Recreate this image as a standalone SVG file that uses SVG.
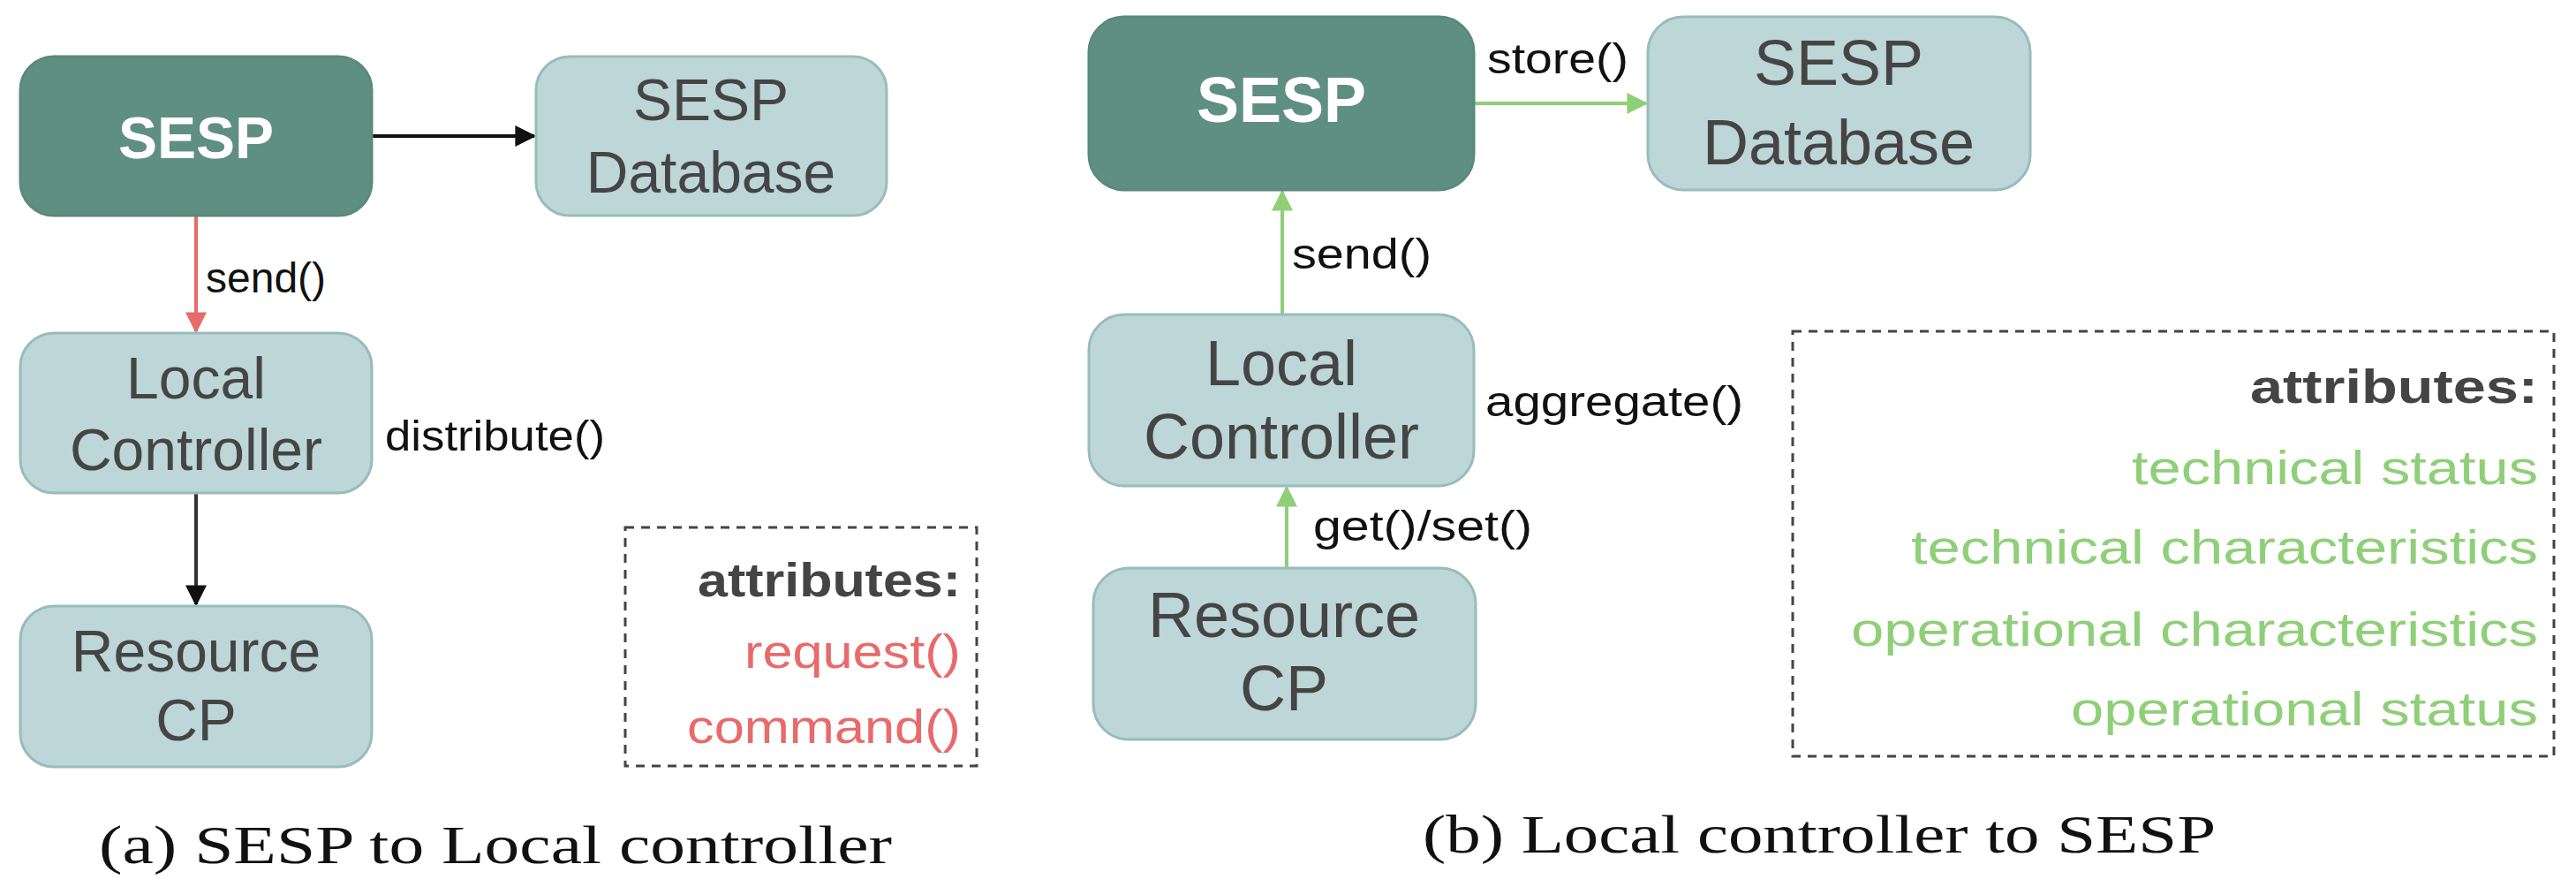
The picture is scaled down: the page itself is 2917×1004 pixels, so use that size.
<svg xmlns="http://www.w3.org/2000/svg" width="2917" height="1004" viewBox="0 0 2917 1004">
<style>
.dark{fill:#5f8f80;stroke:#5a8a7b;stroke-width:3}
.light{fill:#bdd6d7;stroke:#98bcbc;stroke-width:3}
.nt{font-family:"Liberation Sans",Arial,sans-serif;fill:#454545;text-anchor:middle}
.wt{font-family:"Liberation Sans",Arial,sans-serif;fill:#fff;font-weight:bold;text-anchor:middle}
.lb{font-family:"Liberation Sans",Arial,sans-serif;fill:#111;font-size:48px}
.at{font-family:"Liberation Sans",Arial,sans-serif;text-anchor:end;font-size:54px}
.cap{font-family:"Liberation Serif","Times New Roman",serif;fill:#111;font-size:62px}
.dash{fill:none;stroke:#444;stroke-width:3;stroke-dasharray:10 8}
</style>
<defs>
<marker id="mk" viewBox="0 0 10 10" refX="9" refY="5" markerWidth="7" markerHeight="6" orient="auto" markerUnits="strokeWidth"><path d="M0,0L10,5L0,10z" fill="#111"/></marker>
<marker id="mr" viewBox="0 0 10 10" refX="9" refY="5" markerWidth="7" markerHeight="6" orient="auto" markerUnits="strokeWidth"><path d="M0,0L10,5L0,10z" fill="#e86a6a"/></marker>
<marker id="mg" viewBox="0 0 10 10" refX="9" refY="5" markerWidth="7" markerHeight="6" orient="auto" markerUnits="strokeWidth"><path d="M0,0L10,5L0,10z" fill="#8fcf78"/></marker>
</defs>
<g id="connectors">
<line x1="421" y1="154" x2="605" y2="154" stroke="#111" stroke-width="4" marker-end="url(#mk)"/>
<line x1="222" y1="245" x2="222" y2="375" stroke="#e86a6a" stroke-width="4" marker-end="url(#mr)"/>
<line x1="222" y1="558" x2="222" y2="684" stroke="#333" stroke-width="4" marker-end="url(#mk)"/>
<text class="lb" x="233" y="331">send()</text>
<text class="lb" x="436" y="510" textLength="249" lengthAdjust="spacingAndGlyphs">distribute()</text>
<line x1="1669" y1="117" x2="1864" y2="117" stroke="#8fcf78" stroke-width="4" marker-end="url(#mg)"/>
<line x1="1452" y1="356" x2="1452" y2="217" stroke="#8fcf78" stroke-width="4" marker-end="url(#mg)"/>
<line x1="1457" y1="643" x2="1457" y2="552" stroke="#8fcf78" stroke-width="4" marker-end="url(#mg)"/>
<text class="lb" x="1684" y="83" textLength="160" lengthAdjust="spacingAndGlyphs">store()</text>
<text class="lb" x="1463" y="304" textLength="158" lengthAdjust="spacingAndGlyphs">send()</text>
<text class="lb" x="1682" y="471" textLength="292" lengthAdjust="spacingAndGlyphs">aggregate()</text>
<text class="lb" x="1487" y="612" textLength="248" lengthAdjust="spacingAndGlyphs">get()/set()</text>
</g>
<g id="a-sesp"><rect class="dark" x="23" y="64" width="398" height="180" rx="38"/><text class="wt" x="222" y="179" font-size="66">SESP</text></g>
<g id="a-db"><rect class="light" x="607" y="64" width="397" height="180" rx="38"/><text class="nt" x="805" y="136" font-size="66">SESP</text><text class="nt" x="805" y="218" font-size="66">Database</text></g>
<g id="a-lc"><rect class="light" x="23" y="377" width="398" height="181" rx="38"/><text class="nt" x="222" y="451" font-size="66">Local</text><text class="nt" x="222" y="532" font-size="66">Controller</text></g>
<g id="a-rcp"><rect class="light" x="23" y="686" width="398" height="182" rx="38"/><text class="nt" x="222" y="760" font-size="66">Resource</text><text class="nt" x="222" y="838" font-size="66">CP</text></g>
<g id="a-attr"><rect class="dash" x="708" y="597" width="398" height="270"/>
<text class="at" x="1088" y="675" font-weight="bold" fill="#444" textLength="298" lengthAdjust="spacingAndGlyphs">attributes:</text>
<text class="at" x="1088" y="756" fill="#e86a6a" textLength="245" lengthAdjust="spacingAndGlyphs">request()</text>
<text class="at" x="1088" y="841" fill="#e86a6a" textLength="310" lengthAdjust="spacingAndGlyphs">command()</text></g>
<text class="cap" x="112" y="977" textLength="898" lengthAdjust="spacingAndGlyphs">(a) SESP to Local controller</text>
<g id="b-sesp"><rect class="dark" x="1233" y="19" width="436" height="196" rx="40"/><text class="wt" x="1451" y="138" font-size="72">SESP</text></g>
<g id="b-db"><rect class="light" x="1866" y="19" width="433" height="196" rx="40"/><text class="nt" x="2082" y="96" font-size="72">SESP</text><text class="nt" x="2082" y="186" font-size="72">Database</text></g>
<g id="b-lc"><rect class="light" x="1233" y="356" width="436" height="194" rx="40"/><text class="nt" x="1451" y="436" font-size="72">Local</text><text class="nt" x="1451" y="519" font-size="72">Controller</text></g>
<g id="b-rcp"><rect class="light" x="1238" y="643" width="433" height="194" rx="40"/><text class="nt" x="1454" y="721" font-size="72">Resource</text><text class="nt" x="1454" y="804" font-size="72">CP</text></g>
<g id="b-attr"><rect class="dash" x="2030" y="375" width="862" height="481"/>
<text class="at" x="2874" y="456" font-weight="bold" fill="#444" textLength="326" lengthAdjust="spacingAndGlyphs">attributes:</text>
<text class="at" x="2874" y="548" fill="#8fcf78" textLength="460" lengthAdjust="spacingAndGlyphs">technical status</text>
<text class="at" x="2874" y="638" fill="#8fcf78" textLength="710" lengthAdjust="spacingAndGlyphs">technical characteristics</text>
<text class="at" x="2874" y="731" fill="#8fcf78" textLength="778" lengthAdjust="spacingAndGlyphs">operational characteristics</text>
<text class="at" x="2874" y="821" fill="#8fcf78" textLength="529" lengthAdjust="spacingAndGlyphs">operational status</text></g>
<text class="cap" x="1611" y="965" textLength="898" lengthAdjust="spacingAndGlyphs">(b) Local controller to SESP</text>
</svg>
